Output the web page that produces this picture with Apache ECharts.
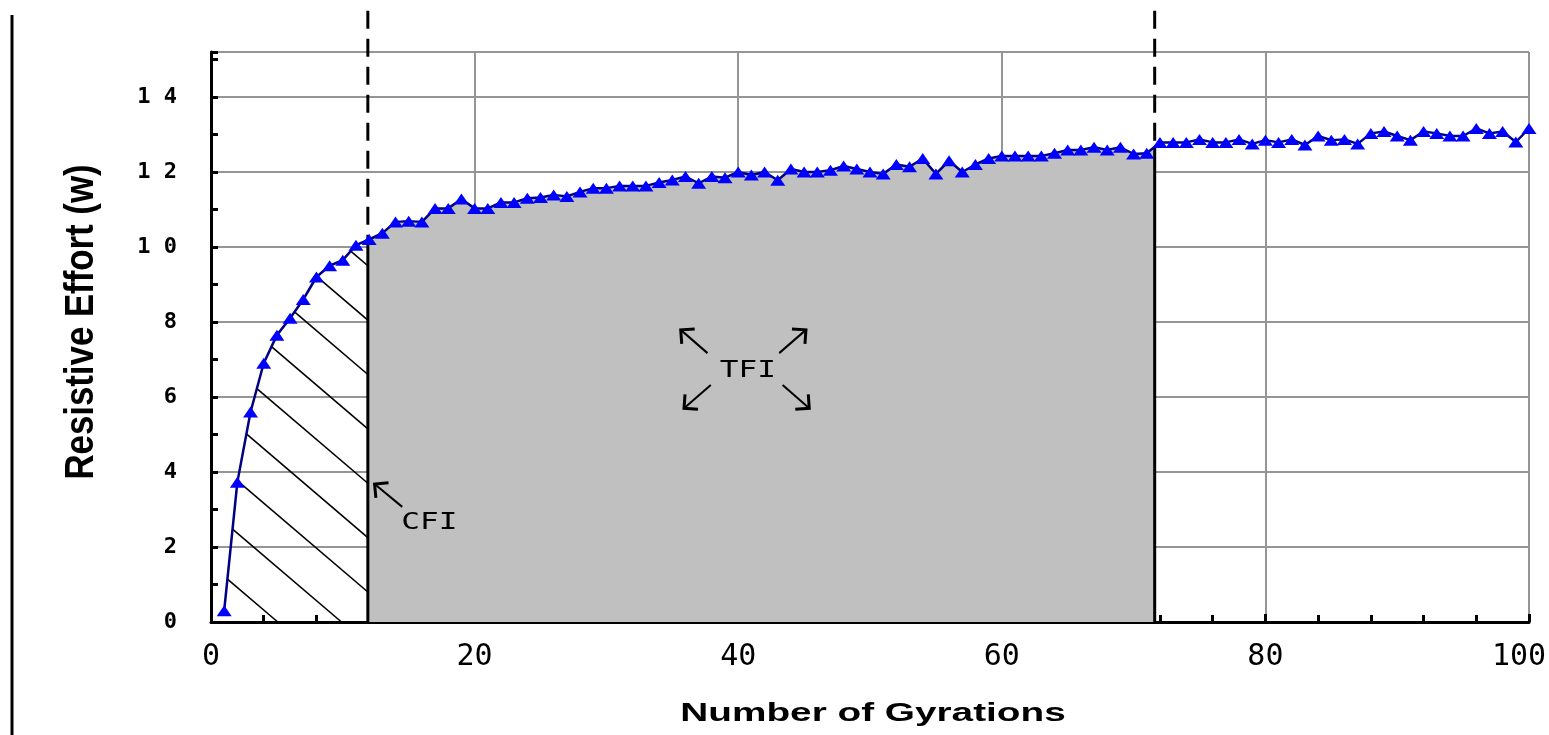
<!DOCTYPE html>
<html><head><meta charset="utf-8">
<script src="https://cdn.jsdelivr.net/npm/echarts@6/dist/echarts.min.js"></script>
<style>html,body{margin:0;padding:0;background:#fff;overflow:hidden;width:1549px;height:735px}#c{width:1549px;height:735px;overflow:hidden}</style>
</head><body><div id="c"></div>
<script>
// ---- data ----
const gyrations = [1,2,3,4,5,6,7,8,9,10,11,12,13,14,15,16,17,18,19,20,
  21,22,23,24,25,26,27,28,29,30,31,32,33,34,35,36,37,38,39,40,
  41,42,43,44,45,46,47,48,49,50,51,52,53,54,55,56,57,58,59,60,
  61,62,63,64,65,66,67,68,69,70,71,72,73,74,75,76,77,78,79,80,
  81,82,83,84,85,86,87,88,89,90,91,92,93,94,95,96,97,98,99,100];
const effort = [0.30,3.73,5.60,6.90,7.65,8.10,8.60,9.20,9.50,9.65,
  10.05,10.20,10.37,10.67,10.69,10.67,11.03,11.03,11.28,11.03,
  11.03,11.19,11.19,11.30,11.32,11.39,11.35,11.47,11.57,11.57,
  11.63,11.63,11.63,11.72,11.79,11.88,11.70,11.88,11.85,12.00,
  11.92,12.00,11.78,12.08,12.00,12.00,12.05,12.16,12.08,12.00,
  11.95,12.20,12.14,12.36,11.95,12.30,12.00,12.20,12.36,12.43,
  12.43,12.43,12.43,12.50,12.59,12.59,12.66,12.59,12.66,12.48,
  12.50,12.79,12.79,12.79,12.87,12.79,12.79,12.87,12.75,12.85,
  12.79,12.87,12.72,12.96,12.85,12.87,12.75,13.03,13.08,12.96,
  12.85,13.08,13.03,12.96,12.96,13.16,13.03,13.08,12.80,13.16];
const xRange = [0, 100];
const yRange = [0, 15.2];
const xTickStep = 20;
const yTickStep = 2;
const regionBounds = [11.9, 71.6];        // CFI | TFI | after
const boundaryTop = 16.3;                 // dashed lines reach above the plot
const hatchOffsets = [9.5, 8.05, 6.6, 5.15, 3.7, 2.25, 0.8, -0.6, -2.05];
const hatchSlope = 0.3;
const labelTexts = ['CFI', 'TFI'];
const labelPos = [[16.57, 2.64], [40.73, 6.69]];
const arrowHeads = [[12.41, 3.68], [35.64, 7.79], [45.14, 7.79], [35.89, 5.70], [45.39, 5.70]];
const arrowTails = [[14.51, 3.07], [37.67, 7.17], [43.11, 7.17], [37.92, 6.32], [43.37, 6.32]];

// ---- helpers ----
function yAt(x) {
  for (let i = 0; i < gyrations.length - 1; i++) {
    const xa = gyrations[i], xb = gyrations[i + 1];
    if (x >= xa && x <= xb) {
      return effort[i] + (effort[i + 1] - effort[i]) * (x - xa) / (xb - xa);
    }
  }
  return x < gyrations[0] ? effort[0] : effort[effort.length - 1];
}

function renderShading(params, api) {
  const children = [];
  const b0 = regionBounds[0], b1 = regionBounds[1];
  // TFI grey area
  const pts = [api.coord([b0, 0]), api.coord([b0, yAt(b0)])];
  gyrations.forEach((g, i) => { if (g > b0 && g < b1) pts.push(api.coord([g, effort[i]])); });
  pts.push(api.coord([b1, yAt(b1)]), api.coord([b1, 0]));
  children.push({ type: 'polygon', shape: { points: pts }, style: { fill: '#c0c0c0' } });

  // CFI hatching
  hatchOffsets.forEach(c => {
    const yL = x => c - hatchSlope * (x - b0);
    let xs = null;
    if (yL(gyrations[0]) <= effort[0]) xs = gyrations[0];
    else {
      for (let i = 0; i < gyrations.length - 1; i++) {
        const xa = gyrations[i], xb = gyrations[i + 1];
        const fa = yL(xa) - effort[i], fb = yL(xb) - effort[i + 1];
        if (fa > 0 && fb <= 0) { xs = xa + (xb - xa) * fa / (fa - fb); break; }
      }
    }
    const xe = c >= 0 ? b0 : b0 + c / hatchSlope;
    if (xs === null || xs >= xe) return;
    const p1 = api.coord([xs, yL(xs)]), p2 = api.coord([xe, yL(xe)]);
    children.push({ type: 'line', shape: { x1: p1[0], y1: p1[1], x2: p2[0], y2: p2[1] },
      style: { stroke: '#000', lineWidth: 1.6 } });
  });

  // boundaries
  [b0, b1].forEach(b => {
    const top = api.coord([b, boundaryTop]), mid = api.coord([b, yAt(b)]), bot = api.coord([b, 0]);
    children.push({ type: 'line', shape: { x1: top[0], y1: top[1], x2: mid[0], y2: mid[1] },
      style: { stroke: '#000', lineWidth: 3, lineDash: [18, 10] } });
    children.push({ type: 'line', shape: { x1: mid[0], y1: mid[1], x2: bot[0], y2: bot[1] },
      style: { stroke: '#000', lineWidth: 3 } });
  });

  // arrows
  arrowHeads.forEach((h, i) => {
    const H = api.coord(h), T = api.coord(arrowTails[i]);
    let dx = T[0] - H[0], dy = T[1] - H[1];
    const L = Math.hypot(dx, dy); dx /= L; dy /= L;
    const a = 14, c45 = Math.SQRT1_2;
    const a1 = [H[0] + a * (dx * c45 - dy * c45), H[1] + a * (dx * c45 + dy * c45)];
    const a2 = [H[0] + a * (dx * c45 + dy * c45), H[1] + a * (-dx * c45 + dy * c45)];
    children.push({ type: 'line', shape: { x1: T[0], y1: T[1], x2: H[0], y2: H[1] },
      style: { stroke: '#000', lineWidth: 2 } });
    children.push({ type: 'polyline', shape: { points: [a1, H, a2] },
      style: { stroke: '#000', lineWidth: 3, fill: null } });
  });

  // labels
  labelTexts.forEach((t, i) => {
    const p = api.coord(labelPos[i]);
    children.push({ type: 'text', x: p[0], y: p[1], scaleX: 1.35,
      style: { text: t, font: '23px "DejaVu Sans Mono"', fill: '#000', align: 'center', verticalAlign: 'middle' } });
  });
  return { type: 'group', children };
}

// ---- chart ----
const chart = echarts.init(document.getElementById('c'), null, { renderer: 'canvas', width: 1549, height: 735 });
chart.setOption({
  animation: false,
  backgroundColor: '#fff',
  grid: { left: 211, right: 20, top: 52, bottom: 113, containLabel: false, outerBoundsMode: 'none' },
  xAxis: {
    type: 'value', min: xRange[0], max: xRange[1], interval: xTickStep,
    axisLine: { show: true, onZero: false, lineStyle: { color: '#000', width: 3 } },
    axisTick: { show: true, inside: true, length: 8, lineStyle: { color: '#000', width: 3 } },
    minorTick: { show: true, splitNumber: 5, length: 7, lineStyle: { color: '#000', width: 3 } },
    splitLine: { show: true, lineStyle: { color: '#959595', width: 2 } },
    axisLabel: {
      color: '#000', fontFamily: '"DejaVu Sans Mono"', fontSize: 30, margin: 20,
      formatter: v => v === xRange[1] ? '{end|' + v + '}' : String(v),
      rich: { end: { fontFamily: '"DejaVu Sans Mono"', fontSize: 30, color: '#000', padding: [0, 20, 0, 0] } }
    }
  },
  yAxis: {
    type: 'value', min: yRange[0], max: yRange[1], interval: yTickStep,
    axisLine: { show: true, onZero: false, lineStyle: { color: '#000', width: 3 } },
    axisTick: { show: true, inside: true, length: 7, lineStyle: { color: '#000', width: 3 } },
    minorTick: { show: true, splitNumber: 2, length: 7, lineStyle: { color: '#000', width: 3 } },
    splitLine: { show: true, lineStyle: { color: '#959595', width: 2 } },
    axisLabel: {
      color: '#000', fontFamily: '"DejaVu Sans Mono"', fontWeight: 'bold', fontSize: 22,
      margin: 34, padding: [0, 0, 16, 0], showMaxLabel: false,
      formatter: v => (v % yTickStep === 0) ? String(v).split('').join(' ') : ''
    }
  },
  graphic: [
    { type: 'line', shape: { x1: 12, y1: 15, x2: 12, y2: 735 }, style: { stroke: '#000', lineWidth: 3 } },
    { type: 'text', x: 873, y: 714, scaleX: 1.55,
      style: { text: 'Number of Gyrations', font: 'bold 25px "Liberation Sans"', fill: '#000', align: 'center', verticalAlign: 'middle' } },
    { type: 'text', x: 82, y: 322, rotation: Math.PI / 2, scaleX: 0.87,
      style: { text: 'Resistive Effort (w)', font: 'bold 40px "Liberation Sans"', fill: '#000', align: 'center', verticalAlign: 'middle' } }
  ],
  series: [
    {
      type: 'custom', z: 1, clip: false, silent: true,
      data: [[regionBounds[0], 0]],
      renderItem: renderShading
    },
    {
      type: 'line', z: 3, clip: false,
      data: gyrations.map((g, i) => [g, effort[i]]),
      symbol: 'triangle', symbolSize: [15, 11], showAllSymbol: true,
      itemStyle: { color: '#0000ff' },
      lineStyle: { color: '#000080', width: 2.5 }
    }
  ]
});
</script></body></html>
